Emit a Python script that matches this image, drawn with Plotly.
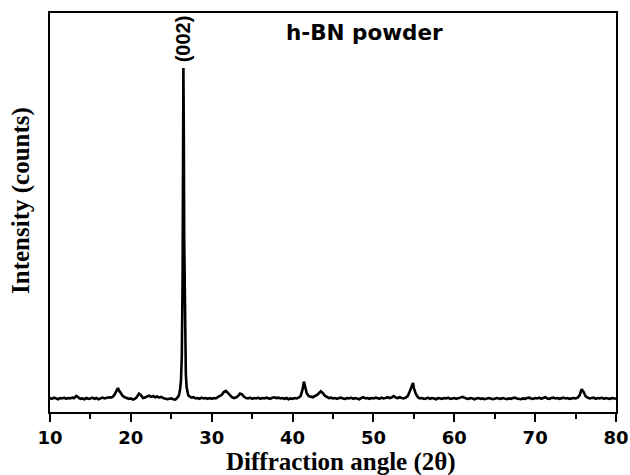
import plotly.graph_objects as go

# 2-theta positions (deg) and intensities (counts)
two_theta = [
    10.0, 10.25, 10.5, 10.75, 11.0, 11.25, 11.5, 11.75, 12.0, 12.25, 12.5, 12.75,
    13.0, 13.25, 13.5, 13.75, 14.0, 14.25, 14.5, 14.75,
    15.0, 15.25, 15.5, 15.75, 16.0, 16.25, 16.5, 16.75, 17.0, 17.25, 17.5, 17.75,
    18.0, 18.25, 18.4, 18.5, 18.75, 19.0, 19.25, 19.5, 19.75,
    20.0, 20.25, 20.5, 20.75, 21.0, 21.25, 21.5, 21.75, 22.0, 22.25, 22.5, 22.75,
    23.0, 23.25, 23.5, 23.75, 24.0, 24.25, 24.5, 24.75,
    25.0, 25.25, 25.5, 25.75, 25.9, 26.0, 26.1, 26.2, 26.3, 26.4, 26.45, 26.5,
    26.55, 26.6, 26.7, 26.8, 26.9, 27.0, 27.1, 27.25, 27.5, 27.75,
    28.0, 28.25, 28.5, 28.75, 29.0, 29.25, 29.5, 29.75,
    30.0, 30.25, 30.5, 30.75, 31.0, 31.25, 31.5, 31.75, 32.0, 32.25, 32.5, 32.75,
    33.0, 33.25, 33.5, 33.75, 34.0, 34.25, 34.5, 34.75,
    35.0, 35.25, 35.5, 35.75, 36.0, 36.25, 36.5, 36.75, 37.0, 37.25, 37.5, 37.75,
    38.0, 38.25, 38.5, 38.75, 39.0, 39.25, 39.5, 39.75,
    40.0, 40.25, 40.5, 40.75, 41.0, 41.25, 41.4, 41.5, 41.75, 42.0, 42.25, 42.5,
    42.75, 43.0, 43.25, 43.5, 43.75, 44.0, 44.25, 44.5, 44.75,
    45.0, 45.25, 45.5, 45.75, 46.0, 46.25, 46.5, 46.75, 47.0, 47.25, 47.5, 47.75,
    48.0, 48.25, 48.5, 48.75, 49.0, 49.25, 49.5, 49.75,
    50.0, 50.25, 50.5, 50.75, 51.0, 51.25, 51.5, 51.75, 52.0, 52.25, 52.5, 52.75,
    53.0, 53.25, 53.5, 53.75, 54.0, 54.25, 54.5, 54.75, 54.9,
    55.0, 55.25, 55.5, 55.75, 56.0, 56.25, 56.5, 56.75, 57.0, 57.25, 57.5, 57.75,
    58.0, 58.25, 58.5, 58.75, 59.0, 59.25, 59.5, 59.75,
    60.0, 60.25, 60.5, 60.75, 61.0, 61.25, 61.5, 61.75, 62.0, 62.25, 62.5, 62.75,
    63.0, 63.25, 63.5, 63.75, 64.0, 64.25, 64.5, 64.75,
    65.0, 65.25, 65.5, 65.75, 66.0, 66.25, 66.5, 66.75, 67.0, 67.25, 67.5, 67.75,
    68.0, 68.25, 68.5, 68.75, 69.0, 69.25, 69.5, 69.75,
    70.0, 70.25, 70.5, 70.75, 71.0, 71.25, 71.5, 71.75, 72.0, 72.25, 72.5, 72.75,
    73.0, 73.25, 73.5, 73.75, 74.0, 74.25, 74.5, 74.75,
    75.0, 75.25, 75.5, 75.75, 76.0, 76.25, 76.5, 76.75, 77.0, 77.25, 77.5, 77.75,
    78.0, 78.25, 78.5, 78.75, 79.0, 79.25, 79.5, 79.75, 80.0,
]

intensity = [
    35, 33, 36, 34, 32, 35, 34, 36, 33, 35, 34, 36,
    35, 40, 36, 33, 34, 32, 35, 33,
    34, 36, 33, 35, 32, 34, 36, 34, 35, 37, 36, 38,
    44, 56, 60, 55, 46, 40, 37, 35, 33,
    34, 31, 33, 38, 46, 42, 35, 36, 39, 41, 38, 40,
    37, 39, 36, 38, 35, 34, 32, 33,
    34, 32, 31, 36, 40, 47, 58, 80, 140, 340, 610, 862,
    700, 430, 180, 95, 62, 49, 42, 39, 36, 37,
    34, 35, 33, 36, 34, 35, 33, 35,
    33, 35, 34, 37, 39, 43, 50, 53, 48, 41, 37, 35,
    36, 40, 46, 44, 38, 35, 34, 36,
    33, 35, 34, 36, 33, 35, 34, 36, 35, 33, 36, 37,
    35, 36, 34, 35, 33, 35, 32, 34,
    33, 35, 34, 36, 40, 58, 76, 68, 47, 40, 39, 37,
    40, 42, 47, 52, 47, 41, 38, 35, 36,
    34, 35, 33, 35, 36, 34, 33, 35, 34, 36, 33, 35,
    34, 32, 35, 37, 34, 35, 33, 35,
    34, 36, 35, 33, 36, 34, 35, 37, 35, 36, 40, 36,
    35, 37, 35, 34, 36, 40, 52, 66, 73,
    60, 45, 37, 34, 35, 33, 34, 36, 33, 35, 34, 32,
    35, 34, 33, 35, 34, 36, 33, 34,
    35, 33, 34, 36, 38, 35, 34, 33, 35, 34, 32, 34,
    35, 33, 34, 32, 33, 35, 34, 32,
    33, 35, 34, 33, 35, 34, 32, 34, 33, 35, 36, 34,
    33, 32, 34, 33, 35, 36, 34, 33,
    35, 34, 36, 33, 35, 37, 34, 33, 35, 36, 34, 35,
    33, 35, 36, 34, 35, 33, 34, 35,
    34, 36, 42, 57, 50, 39, 36, 34, 35, 36, 33, 35,
    34, 36, 33, 35, 34, 33, 35, 34, 33,
]

x_ticks = [10, 20, 30, 40, 50, 60, 70, 80]
sample_label = "h-BN powder"
peak_label = "(002)"
peak_position = 26.5

fig = go.Figure()
fig.add_trace(go.Scatter(
    x=two_theta, y=intensity, mode="lines",
    line=dict(color="black", width=2.6),
    showlegend=False, hoverinfo="skip",
))

serif = "Liberation Serif, Times New Roman, serif"
sans = "DejaVu Sans, Arial, sans-serif"

fig.update_layout(
    width=630, height=475,
    margin=dict(l=50, r=14, t=13, b=63),
    paper_bgcolor="white", plot_bgcolor="white",
    xaxis=dict(
        range=[10, 80], tickvals=x_ticks, ticktext=[str(v) for v in x_ticks],
        ticks="outside", ticklen=8, tickwidth=2, tickcolor="black",
        minor=dict(dtick=5, tick0=10, ticks="outside", ticklen=5, tickwidth=2, tickcolor="black"),
        showline=True, linewidth=2, linecolor="black", mirror=True,
        showgrid=False, zeroline=False, automargin=False,
        tickfont=dict(family=sans, size=18, color="black", weight="bold"),
    ),
    yaxis=dict(
        range=[0, 1000], showticklabels=False, ticks="",
        showline=True, linewidth=2, linecolor="black", mirror=True,
        showgrid=False, zeroline=False, automargin=False,
    ),
    annotations=[
        dict(text="<b>Diffraction angle (2θ)</b>", xref="paper", yref="paper",
             x=0.514, y=-0.125, xanchor="center", yanchor="middle", showarrow=False,
             font=dict(family=serif, size=25, color="black")),
        dict(text="<b>Intensity (counts)</b>", xref="paper", yref="paper",
             x=-0.0512, y=0.529, xanchor="center", yanchor="middle", showarrow=False,
             textangle=-90, font=dict(family=serif, size=25, color="black")),
        dict(text="<b>" + sample_label + "</b>", xref="paper", yref="paper",
             x=0.5548, y=0.95, xanchor="center", yanchor="middle", showarrow=False,
             font=dict(family=sans, size=21.5, color="black")),
        dict(text="<b>" + peak_label + "</b>", xref="x", yref="paper",
             x=peak_position, y=0.935, xanchor="center", yanchor="middle", showarrow=False,
             textangle=-90, font=dict(family="Liberation Sans, Arial, sans-serif", size=20, color="black")),
    ],
)

fig.write_html("out.html")
